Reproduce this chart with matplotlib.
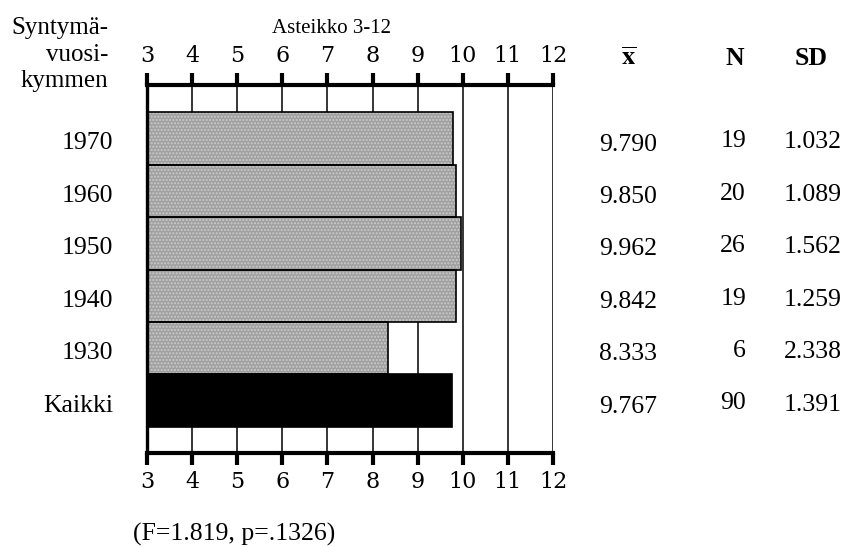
import matplotlib
matplotlib.use("Agg")
import matplotlib.pyplot as plt
import numpy as np

categories = ["1970", "1960", "1950", "1940", "1930", "Kaikki"]
means = [9.790, 9.850, 9.962, 9.842, 8.333, 9.767]
ns = [19, 20, 26, 19, 6, 90]
sds = [1.032, 1.089, 1.562, 1.259, 2.338, 1.391]
ticks = list(range(3, 13))
scale_min = 3

plt.rcParams['mathtext.fontset'] = 'stix'
SERIF = ['Liberation Serif', 'DejaVu Serif']
TICKF = ['DejaVu Serif']
W, H = 847, 547

def fx(px):
    return px / W

def fy(py):
    return 1 - py / H

fig = plt.figure(figsize=(8.47, 5.47), dpi=100)
L, R, T, B = 147, 553, 85, 453
ax = fig.add_axes([fx(L), fy(B), (R - L) / W, (B - T) / H])

colors = ['#a0a0a0'] * 5 + ['#000000']
for i, (m, c) in enumerate(zip(means, colors)):
    if c != '#000000':
        ax.barh(i, m - scale_min, left=scale_min, height=1.0, color=c,
                hatch='.....', edgecolor='#cccccc', linewidth=0, zorder=2)
        ax.barh(i, m - scale_min, left=scale_min, height=1.0, fill=False,
                edgecolor='black', linewidth=1.2, zorder=3)
    else:
        ax.barh(i, m - scale_min, left=scale_min, height=1.0, color=c,
                edgecolor='black', linewidth=1.2, zorder=3)

for t in ticks[1:]:
    ax.axvline(t, color='black', linewidth=1.1, zorder=1)

ax.set_xlim(3, 12)
ax.set_ylim(6.0, -1.02)
ax.set_yticks([])
ax.spines['right'].set_visible(False)
ax.spines['left'].set_linewidth(2.4)
ax.spines['top'].set_linewidth(3)
ax.spines['bottom'].set_linewidth(3)
ax.set_xticks(ticks)
ax.tick_params(axis='x', top=True, labeltop=True, bottom=True, labelbottom=True,
               direction='out', length=8.6, width=3, pad=4.5, labelsize=16)
for lab in ax.get_xticklabels():
    lab.set_family(TICKF)

# left header
fig.text(fx(108), fy(34), "Syntymä-", ha='right', va='baseline', fontsize=18, family=SERIF)
fig.text(fx(108), fy(61), "vuosi-", ha='right', va='baseline', fontsize=18, family=SERIF)
fig.text(fx(108), fy(87), "kymmen", ha='right', va='baseline', fontsize=18, family=SERIF)
fig.text(fx(331), fy(33), "Asteikko 3-12", ha='center', va='baseline', fontsize=15, family=SERIF)

tr = ax.get_yaxis_transform()

def axx(px):
    return (px - L) / (R - L)

# row labels
for i, cat in enumerate(categories):
    ax.text(axx(113), i + 0.21, cat, transform=tr, ha='right', va='baseline',
            fontsize=18.5, family=SERIF)

# table headers
fig.text(fx(629), fy(65), r'$\overline{\mathbf{x}}$', ha='center', va='baseline', fontsize=19)
fig.text(fx(735), fy(65), "N", ha='center', va='baseline', fontsize=18.5, family=SERIF, fontweight='bold')
fig.text(fx(811), fy(65), "SD", ha='center', va='baseline', fontsize=18.5, family=SERIF, fontweight='bold')

for i in range(len(categories)):
    ax.text(axx(628), i + 0.23, f"{means[i]:.3f}", transform=tr, ha='center', va='baseline',
            fontsize=18.5, family=SERIF)
    ax.text(axx(746), i + 0.17, f"{ns[i]}", transform=tr, ha='right', va='baseline',
            fontsize=18.5, family=SERIF)
    ax.text(axx(813), i + 0.19, f"{sds[i]:.3f}", transform=tr, ha='center', va='baseline',
            fontsize=18.5, family=SERIF)

fig.text(fx(133), fy(541), "(F=1.819, p=.1326)", ha='left', va='baseline', fontsize=18.5, family=SERIF)

fig.savefig("out.png", dpi=100)
